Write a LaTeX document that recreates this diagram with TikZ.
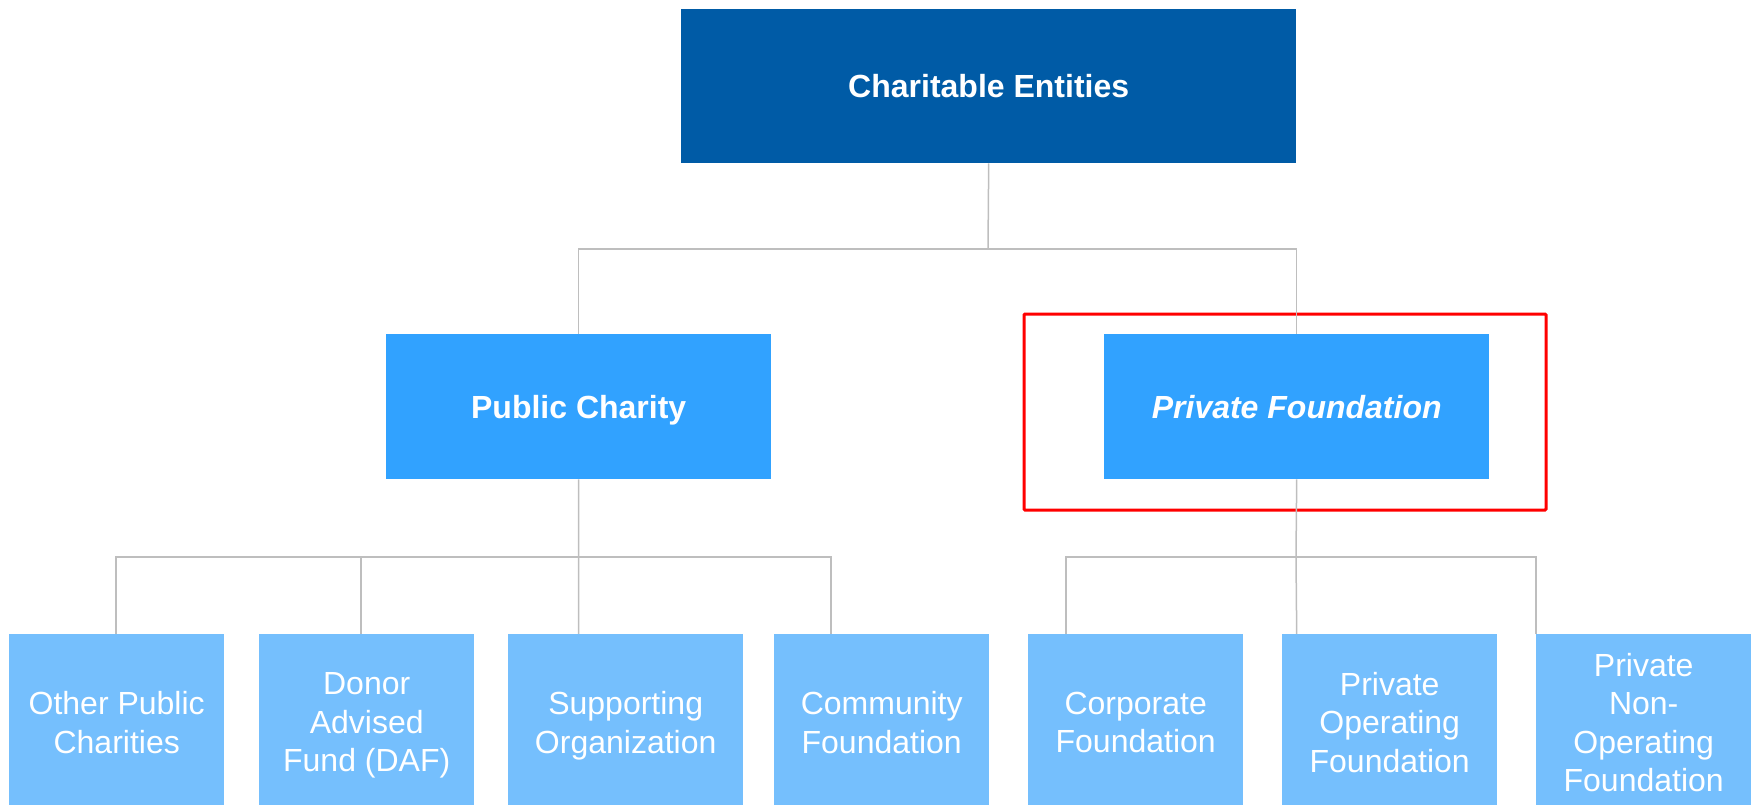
\documentclass[tikz,border=0pt]{standalone}
\usepackage{fontspec}
\setmainfont{Liberation Sans}
\usetikzlibrary{backgrounds}
\definecolor{darkblue}{RGB}{0,91,166}
\definecolor{midblue}{RGB}{49,162,255}
\definecolor{lightblue}{RGB}{117,191,253}
\definecolor{connector}{RGB}{190,190,190}
\begin{document}
\begin{tikzpicture}[x=1pt,y=-1pt,
  box/.style={rectangle, inner sep=0pt, text=white, align=center, anchor=north west, text depth=0pt},
  topbox/.style={box, fill=darkblue, minimum width=615pt, minimum height=154pt, font=\fontsize{32}{38.4}\selectfont\bfseries},
  midbox/.style={box, fill=midblue, minimum width=385pt, minimum height=145pt, font=\fontsize{32}{38.4}\selectfont\bfseries},
  leafbox/.style={box, fill=lightblue, minimum width=215pt, minimum height=176pt, font=\fontsize{32}{38.4}\selectfont},
  conn/.style={draw=connector, line width=1.5pt},
  highlight/.style={draw=red, line width=3pt, rounded corners=1pt}
]
\useasboundingbox (0,0) rectangle (1754,804);

% nodes
\node[topbox] (root) at (681,9) {Charitable Entities};
\node[midbox] (pc) at (386,334) {Public Charity};
\node[midbox] (pf) at (1104,334) {\itshape Private Foundation};

\node[leafbox] (b1) at (9,634) {Other Public\\Charities};
\node[leafbox] (b2) at (259,634) {Donor\\Advised\\Fund (DAF)};
\node[leafbox, minimum width=235pt] (b3) at (508,634) {Supporting\\Organization};
\node[leafbox] (b4) at (774,634) {Community\\Foundation};
\node[leafbox] (b5) at (1028,634) {Corporate\\Foundation};
\node[leafbox] (b6) at (1282,634) {Private\\Operating\\Foundation};
\node[leafbox] (b7) at (1536,634) {Private\\Non-\\Operating\\Foundation};

% bus coordinates
\coordinate (busTop) at (988,249);
\coordinate (busL) at (578.5,557);
\coordinate (busR) at (1296,557);
\coordinate (t1) at (116,634);
\coordinate (t2) at (361,634);
\coordinate (t4) at (831,634);
\coordinate (t5) at (1066,634);
\coordinate (t7) at (1536,634);

\begin{scope}[on background layer]
% highlight frame
\draw[highlight] (1024,314) rectangle (1546,510);
% connectors
\draw[conn] (root.south) -- (busTop);
\draw[conn] (pc.north) -- (pc.north |- busTop) -- (pf.north |- busTop) -- (pf.north);
\draw[conn] (pc.south) -- (busL);
\draw[conn] (t1) |- (busL);
\draw[conn] (t2) -- (t2 |- busL);
\draw[conn] (pc.south |- b3.north) -- (busL);
\draw[conn] (t4) |- (busL);
\draw[conn] (pf.south) -- (busR);
\draw[conn] (t5) |- (busR);
\draw[conn] (pf.south |- b6.north) -- (busR);
\draw[conn] (t7) |- (busR);
\end{scope}
\end{tikzpicture}
\end{document}
